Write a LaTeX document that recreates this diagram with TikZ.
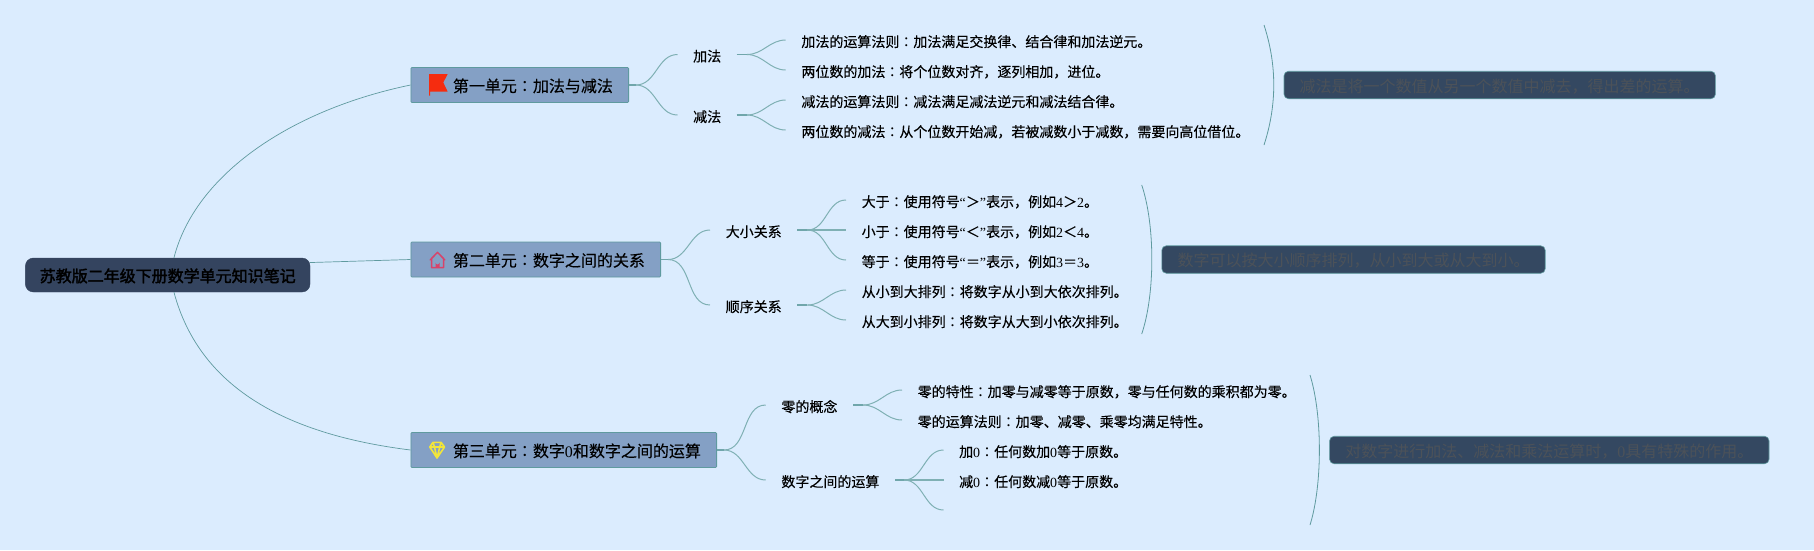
\documentclass[tikz,border=0pt]{standalone}
\usepackage{fontspec}
\setmainfont{Liberation Serif}
\newfontfamily\cjk[FakeBold=0.25]{Noto Sans CJK SC}
\newfontfamily\cjkn{Noto Sans CJK SC}
\newfontfamily\cjkb[FakeBold=2.2]{Noto Sans CJK SC}
\newfontfamily\cjp{Noto Sans CJK JP}
\newcommand{\cln}{{\cjp ：}}
\newcommand{\lat}[1]{{\rmfamily #1}}
\definecolor{bgc}{HTML}{DBECFE}
\definecolor{edgec}{HTML}{5F9A9F}
\definecolor{palec}{HTML}{7FB0B4}
\definecolor{stubc}{HTML}{70A6AB}
\definecolor{rootc}{HTML}{34445F}
\definecolor{unitc}{HTML}{84A0C5}
\definecolor{notec}{HTML}{344861}
\definecolor{notet}{HTML}{4C5259}
\tikzset{
  rootbox/.style={draw=rootc,fill=rootc,rounded corners=8pt,minimum width=284.6pt,minimum height=34pt,inner sep=0pt,text height=14pt,text depth=0pt,font=\cjkb\fontsize{16}{16}\selectfont,text=black},
  unitbox/.style={anchor=west,draw=edgec,line width=0.8pt,fill=unitc,rounded corners=1pt,minimum height=35pt,inner ysep=0pt,inner xsep=15.7pt,text height=14pt,text depth=0pt,font=\cjk\fontsize{16}{16}\selectfont,text=black},
  midbox/.style={anchor=west,inner ysep=0pt,inner xsep=15.5pt,text height=14pt,text depth=0pt,font=\cjk\fontsize{14}{14}\selectfont,text=black},
  leafbox/.style={midbox},
  notebox/.style={anchor=west,draw=edgec,line width=0.6pt,fill=notec,rounded corners=4.5pt,minimum height=27.5pt,inner ysep=0pt,inner xsep=15.7pt,text height=14.5pt,text depth=0pt,font=\cjkn\fontsize{16}{16}\selectfont,text=notet},
  rootline/.style={draw=edgec,line width=0.7pt},
  branch/.style={draw=palec,line width=1pt},
  thickbranch/.style={draw=palec,line width=1.4pt},
  stubline/.style={draw=stubc,line width=1.3pt},
  bracketline/.style={draw=edgec,line width=0.8pt},
}
\newcommand{\forkto}[4][branch]{%
  \path (#2.east) ++(#4,0) coordinate (fk);
  \draw[stubline] (#2.east) -- (fk);
  \draw[#1] (fk) to[out=0,in=180] (#3);
}
\newcommand{\bracketto}[3]{%
  \draw[bracketline] (#1) .. controls ($(#1)+(#3,40)$) and ($(#2)+(#3,-40)$) .. (#2);
}
\usetikzlibrary{calc}
\begin{document}
\begin{tikzpicture}[x=1pt,y=-1pt]
\useasboundingbox[fill=bgc] (0,0) rectangle (1814,550);

% root and units
\node[rootbox] (root) at (167.7,275) {苏教版二年级下册数学单元知识笔记};
\node[unitbox] (u1) at (410.5,85) {\hspace*{26.3pt}第一单元\cln 加法与减法};
\node[unitbox] (u2) at (410.5,259.5) {\hspace*{26.3pt}第二单元\cln 数字之间的关系};
\node[unitbox] (u3) at (410.5,450) {\hspace*{26.3pt}第三单元\cln 数字\lat{0}和数字之间的运算};

% unit 1
\node[midbox] (a) at (677.5,54.5) {加法};
\node[midbox] (b) at (677.5,115) {减法};
\node[leafbox] (a1) at (785.7,40) {加法的运算法则\cln 加法满足交换律、结合律和加法逆元。};
\node[leafbox] (a2) at (785.7,70) {两位数的加法\cln 将个位数对齐，逐列相加，进位。};
\node[leafbox] (b1) at (785.7,100) {减法的运算法则\cln 减法满足减法逆元和减法结合律。};
\node[leafbox] (b2) at (785.7,130) {两位数的减法\cln 从个位数开始减，若被减数小于减数，需要向高位借位。};
\node[notebox] (n1) at (1283.7,85) {减法是将一个数值从另一个数值中减去，得出差的运算。};

% unit 2
\node[midbox] (c) at (710,230) {大小关系};
\node[midbox] (d) at (710,305) {顺序关系};
\node[leafbox] (c1) at (846,200) {大于\cln 使用符号\lat{“}＞\lat{”}表示，例如\lat{4}＞\lat{2}。};
\node[leafbox] (c2) at (846,230) {小于\cln 使用符号\lat{“}＜\lat{”}表示，例如\lat{2}＜\lat{4}。};
\node[leafbox] (c3) at (846,260) {等于\cln 使用符号\lat{“}＝\lat{”}表示，例如\lat{3}＝\lat{3}。};
\node[leafbox] (d1) at (846,290) {从小到大排列\cln 将数字从小到大依次排列。};
\node[leafbox] (d2) at (846,320) {从大到小排列\cln 将数字从大到小依次排列。};
\node[notebox] (n2) at (1161.5,259.5) {数字可以按大小顺序排列，从小到大或从大到小。};

% unit 3
\node[midbox] (e) at (765.7,405) {零的概念};
\node[midbox] (f) at (765.7,480) {数字之间的运算};
\node[leafbox] (e1) at (902,390) {零的特性\cln 加零与减零等于原数，零与任何数的乘积都为零。};
\node[leafbox] (e2) at (902,420) {零的运算法则\cln 加零、减零、乘零均满足特性。};
\node[leafbox] (f1) at (943.5,450) {加\lat{0}\cln 任何数加\lat{0}等于原数。};
\node[leafbox] (f2) at (943.5,480) {减\lat{0}\cln 任何数减\lat{0}等于原数。};
\coordinate (f3) at (943.5,510);
\node[notebox] (n3) at (1329.3,450) {对数字进行加法、减法和乘法运算时，\lat{0}具有特殊的作用。};

% root connectors
\draw[rootline] (root.70) .. controls (195,175) and (290,110) .. (u1.west);
\draw[rootline] (root.5.2) -- (u2.west);
\draw[rootline] (root.-70) .. controls (200,390) and (290,435) .. (u3.west);

% branch connectors
\forkto{u1}{a.west}{7}
\forkto{u1}{b.west}{7}
\forkto{a}{a1.west}{10}
\forkto{a}{a2.west}{10}
\forkto{b}{b1.west}{10}
\forkto{b}{b2.west}{10}
\forkto{u2}{c.west}{7}
\forkto{u2}{d.west}{7}
\forkto{c}{c1.west}{10}
\forkto[thickbranch]{c}{c2.west}{10}
\forkto{c}{c3.west}{10}
\forkto{d}{d1.west}{10}
\forkto{d}{d2.west}{10}
\forkto{u3}{e.west}{7}
\forkto{u3}{f.west}{7}
\forkto{e}{e1.west}{10}
\forkto{e}{e2.west}{10}
\forkto{f}{f1.west}{9}
\forkto[thickbranch]{f}{f2.west}{9}
\forkto{f}{f3}{9}

% brackets
\coordinate (br1a) at (1264,25);  \coordinate (br1b) at (1264,145);
\coordinate (br2a) at (1141.7,185); \coordinate (br2b) at (1141.7,334);
\coordinate (br3a) at (1310,375); \coordinate (br3b) at (1310,525);
\bracketto{br1a}{br1b}{13}
\bracketto{br2a}{br2b}{13.5}
\bracketto{br3a}{br3b}{12.5}

% icons
\fill[color={rgb,255:red,245;green,44;blue,15}] (429,74) -- (447.7,74) -- (443.3,82.5) -- (447.7,91.7) -- (430.2,91.7) -- (430.2,95.7) -- (429,95.7) -- cycle;
\draw[color={rgb,255:red,216;green,67;blue,106},line width=1.5pt,line join=round]
  (431.5,267.5) -- (431.5,259) -- (430.3,259.8) -- (437.5,252.3) -- (444.7,259.8) -- (443.5,259) -- (443.5,267.5) -- cycle;
\fill[color={rgb,255:red,216;green,67;blue,106}] (435.5,267.5) -- (435.5,262.5) arc[start angle=180,end angle=0,radius=2] -- (439.5,267.5) -- cycle;
\draw[color={rgb,255:red,242;green,230;blue,58},line width=1.6pt,line join=round]
  (433,442.3) -- (441,442.3) -- (444.5,447) -- (437,458) -- (429.8,447) -- cycle
  (429.8,447) -- (444.5,447) (433,442.3) -- (434.5,447) -- (437,458) -- (439.8,447) -- (441,442.3);
\end{tikzpicture}
\end{document}
